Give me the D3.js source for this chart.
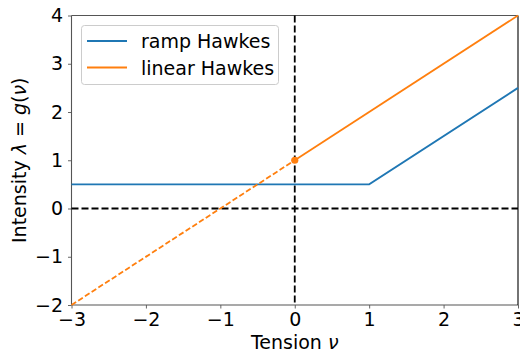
<!DOCTYPE html>
<html>
<head>
<meta charset="utf-8">
<script src="https://cdn.jsdelivr.net/npm/d3@7"></script>
<style>
  body { margin: 0; background: #fff; }
  text { font-family: "DejaVu Sans", sans-serif; fill: #000; }
</style>
</head>
<body>
<div id="chart"></div>
<script>
// data
const xTicks = [-3, -2, -1, 0, 1, 2, 3];
const yTicks = [-2, -1, 0, 1, 2, 3, 4];
const rampX = [-3, 1, 3];
const rampY = [0.5, 0.5, 2.5];
const linDashX = [-3, 0];
const linDashY = [-2, 1];
const linSolidX = [0, 3];
const linSolidY = [1, 4];
const legendLabels = ["ramp Hawkes", "linear Hawkes"];
const colors = ["#1f77b4", "#ff7f0e"];

const width = 520, height = 354;
const margin = { left: 71.5, right: 2, top: 15.5, bottom: 49 };
const fs = 19;

const svg = d3.select("#chart").append("svg")
  .attr("width", width)
  .attr("height", height);

const x = d3.scaleLinear().domain([-3, 3]).range([margin.left, width - margin.right]);
const y = d3.scaleLinear().domain([-2, 4]).range([height - margin.bottom, margin.top]);

const line = d3.line().x(d => x(d[0])).y(d => y(d[1]));
const pts = (xs, ys) => xs.map((v, i) => [v, ys[i]]);
const minus = d => d < 0 ? "\u2212" + Math.abs(d) : d;

// axes
const xAxis = svg.append("g")
  .attr("transform", `translate(0,${y(-2)})`)
  .call(d3.axisBottom(x).tickValues(xTicks).tickSize(3.5).tickPadding(4).tickFormat(minus));
const yAxis = svg.append("g")
  .attr("transform", `translate(${x(-3)},0)`)
  .call(d3.axisLeft(y).tickValues(yTicks).tickSize(3.5).tickPadding(5).tickFormat(minus));
[xAxis, yAxis].forEach(g => {
  g.select(".domain").remove();
  g.selectAll("line").attr("stroke", "#555").attr("stroke-width", 0.9);
  g.selectAll("text").attr("font-size", fs).attr("font-family", "DejaVu Sans").attr("fill", "#000");
});

// frame
const frame = [
  [-3, -2, 3, -2, "#555"], [-3, 4, 3, 4, "#555"],
  [-3, -2, -3, 4, "#555"], [3, -2, 3, 4, "#000"]
];
frame.forEach(f => svg.append("line")
  .attr("x1", x(f[0])).attr("y1", y(f[1])).attr("x2", x(f[2])).attr("y2", y(f[3]))
  .attr("stroke", f[4]).attr("stroke-width", 1.1));

// reference lines
svg.append("line").attr("x1", x(-3)).attr("x2", x(3)).attr("y1", y(0)).attr("y2", y(0))
  .attr("stroke", "#000").attr("stroke-width", 1.8).attr("stroke-dasharray", "7,3");
svg.append("line").attr("x1", x(0)).attr("x2", x(0)).attr("y1", y(4)).attr("y2", y(-2))
  .attr("stroke", "#000").attr("stroke-width", 1.8).attr("stroke-dasharray", "7,3");

// series
svg.append("path").datum(pts(rampX, rampY)).attr("d", line)
  .attr("fill", "none").attr("stroke", colors[0]).attr("stroke-width", 1.8);
svg.append("path").datum(pts(linDashX, linDashY)).attr("d", line)
  .attr("fill", "none").attr("stroke", colors[1]).attr("stroke-width", 1.8)
  .attr("stroke-dasharray", "5.5,2.5");
svg.append("path").datum(pts(linSolidX, linSolidY)).attr("d", line)
  .attr("fill", "none").attr("stroke", colors[1]).attr("stroke-width", 1.8);
svg.append("circle").attr("cx", x(0)).attr("cy", y(1)).attr("r", 3.6).attr("fill", colors[1]);

// legend
const lg = svg.append("g");
lg.append("rect").attr("x", 81.5).attr("y", 25.5).attr("width", 197).attr("height", 59)
  .attr("rx", 3).attr("fill", "#fff").attr("fill-opacity", 0.8)
  .attr("stroke", "#ccc").attr("stroke-width", 1);
legendLabels.forEach((lab, i) => {
  const cy = 41 + i * 26.5;
  lg.append("line").attr("x1", 87).attr("x2", 127).attr("y1", cy).attr("y2", cy)
    .attr("stroke", colors[i]).attr("stroke-width", 1.8);
  lg.append("text").attr("x", 141).attr("y", cy + 7).attr("font-size", fs).text(lab);
});

// axis labels
svg.append("text").attr("x", x(0)).attr("y", 349).attr("text-anchor", "middle")
  .attr("font-size", fs)
  .html('Tension <tspan font-style="italic">ν</tspan>');
svg.append("text").attr("transform", `translate(26,${(y(4) + y(-2)) / 2}) rotate(-90)`)
  .attr("text-anchor", "middle").attr("font-size", fs)
  .html('Intensity <tspan font-style="italic">λ</tspan> = <tspan font-style="italic">g</tspan>(<tspan font-style="italic">ν</tspan>)');
</script>
</body>
</html>
